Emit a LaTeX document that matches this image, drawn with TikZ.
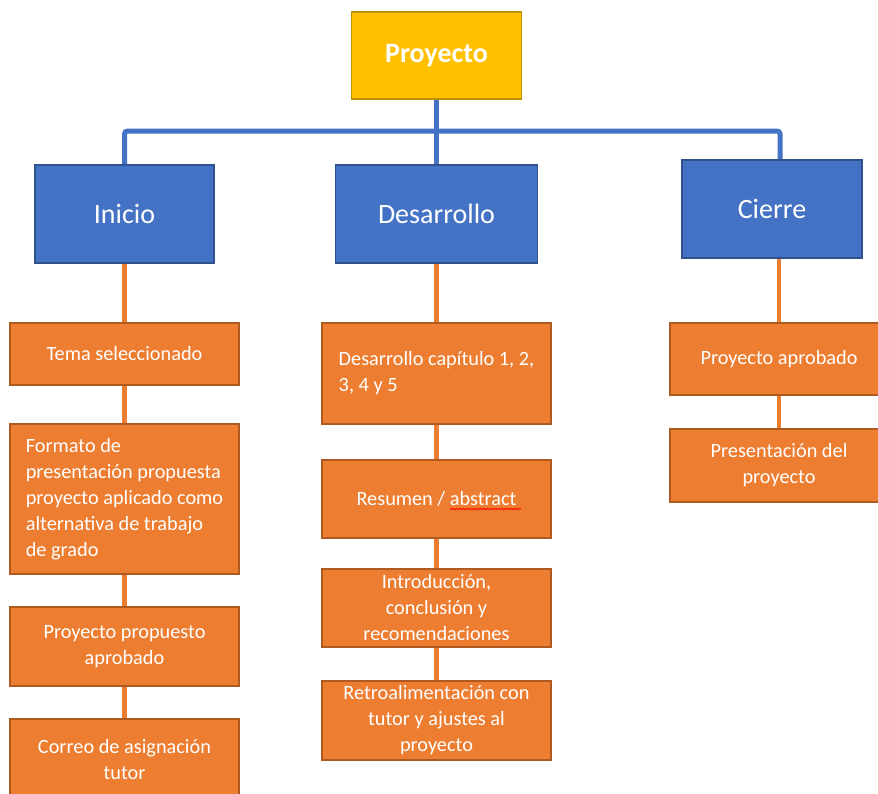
\documentclass[tikz,border=0pt]{standalone}
\usepackage{fontspec}
\setmainfont{Carlito}
\usetikzlibrary{backgrounds}
\usetikzlibrary{decorations.pathmorphing}

\definecolor{gold}{HTML}{FFC000}
\definecolor{golddark}{HTML}{BF9000}
\definecolor{phaseblue}{HTML}{4472C4}
\definecolor{phasebluedark}{HTML}{2F528F}
\definecolor{taskorange}{HTML}{ED7D31}
\definecolor{taskorangedark}{HTML}{AE5A21}

\begin{document}
\begin{tikzpicture}[x=1pt,y=-1pt,
    rootbox/.style={draw=golddark,fill=gold,line width=1.8pt,text=white,
        font=\fontsize{28}{33}\selectfont\bfseries,minimum width=170pt,minimum height=87pt},
    phasebox/.style={draw=phasebluedark,fill=phaseblue,line width=1.8pt,text=white,
        font=\fontsize{28}{33}\selectfont,minimum height=98pt},
    taskbox/.style={draw=taskorangedark,fill=taskorange,line width=1.8pt,text=white,
        font=\fontsize{20.3}{26}\selectfont,align=center,minimum width=229pt},
    blueline/.style={phaseblue,line width=5pt,rounded corners=3pt},
    orangeline/.style={taskorange,line width=4.5pt}]
    
    % page size, cut at the bottom and right edge
    \useasboundingbox (0,0) rectangle (878,793);
    \clip (0,0) rectangle (878,793);
    
    % top and phases
    \node[rootbox] (proy) at (436.5,55.5) {Proyecto};
    \node[phasebox,minimum width=179pt] (ini) at (124.5,214) {Inicio};
    \node[phasebox,minimum width=202pt] (des) at (436.5,214) {Desarrollo};
    \node[phasebox,minimum width=180pt] (cie) at (772,209) {Cierre};
    \coordinate (bus) at (780,131);
    
    % inicio
    \node[taskbox,minimum height=62pt] (ini1) at (124.5,354) {Tema seleccionado};
    \node[taskbox,minimum height=150pt,align=left] (ini2) at (124.5,499)
        {Formato de\\presentación propuesta\\proyecto aplicado como\\alternativa de trabajo\\de grado};
    \node[taskbox,minimum height=79pt] (ini3) at (124.5,646.5) {Proyecto propuesto\\aprobado};
    \node[taskbox,minimum height=82pt] (ini4) at (124.5,760) {Correo de asignación\\tutor};
    
    % desarrollo
    \node[taskbox,minimum height=101pt,align=left] (des1) at (436.5,373.5)
        {Desarrollo capítulo 1, 2,\\3, 4 y 5};
    \node[taskbox,minimum height=78pt] (des2) at (436.5,499) {Resumen / abstract};
    \node[taskbox,minimum height=78pt] (des3) at (436.5,608)
        {Introducción,\\conclusión y\\recomendaciones};
    \node[taskbox,minimum height=79pt] (des4) at (436.5,720.5)
        {Retroalimentación con\\tutor y ajustes al\\proyecto};
    
    % cierre
    \node[taskbox,minimum width=218pt,minimum height=72pt] (cie1) at (779,359) {Proyecto aprobado};
    \node[taskbox,minimum width=218pt,minimum height=73pt] (cie2) at (779,465.5)
        {Presentación del\\proyecto};
    
    % spell check mark
    \draw[red,line width=0.7pt,decorate,decoration={snake,amplitude=0.8pt,segment length=3pt}]
        (450,509) -- (521,509);
    
    \begin{scope}[on background layer]
        \fill[white] (0,0) rectangle (878,793);
        
        % blue tree
        \draw[blueline] (ini.north) -- (ini.north |- bus) -- (bus) -- (cie.north -| bus);
        \draw[blueline] (proy.south) -- (des.north);
        
        % orange chains
        \foreach \a/\b in {ini/ini1,ini1/ini2,ini2/ini3,ini3/ini4,des/des1,des1/des2,des2/des3,des3/des4,cie1/cie2}
            \draw[orangeline] (\a.south) -- (\b.north);
        \draw[orangeline] (cie.south -| cie1) -- (cie1.north);
    \end{scope}
    
\end{tikzpicture}
\end{document}
